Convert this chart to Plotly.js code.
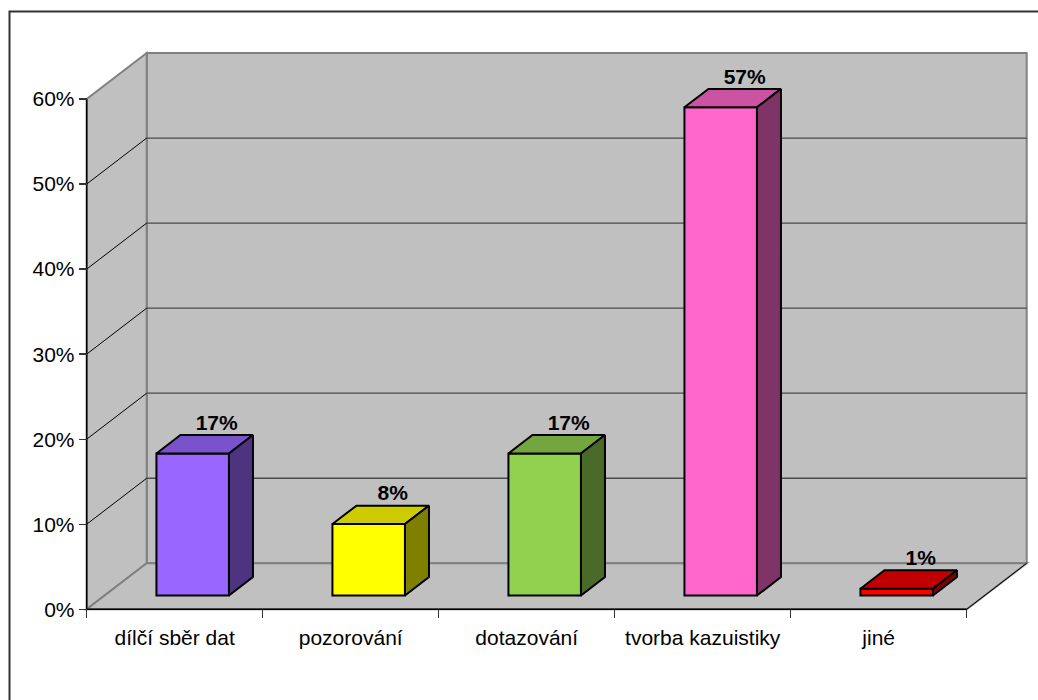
<!DOCTYPE html>
<html>
<head>
<meta charset="utf-8">
<script src="https://cdn.plot.ly/plotly-3.0.1.min.js"></script>
<style>html,body{margin:0;padding:0;background:#fff;}#chart{width:1038px;height:700px;}</style>
</head>
<body>
<div id="chart"></div>
<script>
// ---- data ----
const categories = ['dílčí sběr dat', 'pozorování', 'dotazování', 'tvorba kazuistiky', 'jiné'];
const values = [0.167, 0.084, 0.167, 0.574, 0.008];
const frontColors = ['#9966FF', '#FFFF00', '#92D050', '#FF66CC', '#FF0000'];
const topColors = ['#7A52CC', '#CCCC00', '#74A63F', '#CC52A3', '#C00000'];
const sideColors = ['#4D3380', '#808000', '#4A6A29', '#803366', '#800000'];
const yTickVals = [0, 0.1, 0.2, 0.3, 0.4, 0.5, 0.6];

// ---- geometry (layout constants) ----
const W = 1038, H = 700;
const frontX0 = 86.7, frontY0 = 609.3;   // px of front-left-bottom corner
const pxPerCat = 176, pxPerUnit = 850.5;
const depthDX = 60, depthDY = 46;        // px depth offset of the 3D box
const D = depthDX / pxPerCat;            // depth in x units
const E = depthDY / pxPerUnit;           // depth in y units
const yMax = 0.6;
const padX = 0.03, padY = 0.01;
const xRange = [-0.5 - padX, categories.length - 0.5 + D + padX];
const yRange = [-padY, yMax + E + padY];
const xDomain = [(frontX0 - padX * pxPerCat) / W, (frontX0 + (xRange[1] + 0.5) * pxPerCat) / W];
const yDomain = [1 - (frontY0 + padY * pxPerUnit) / H, 1 - (frontY0 - (yRange[1]) * pxPerUnit) / H];

const barW = 0.412, f0 = 0.3, f1 = 0.7;
const font = 'Liberation Sans, Arial, sans-serif';

// ---- shapes: walls, floor, gridlines ----
const wallFill = '#C0C0C0', edge = '#808080';
const shapes = [];
function poly(pts, fill, lc, lw) {
  const d = pts.map((p, i) => (i ? 'L' : 'M') + p[0] + ',' + p[1]).join(' ') + ' Z';
  shapes.push({type: 'path', xref: 'x', yref: 'y', path: d, fillcolor: fill, line: {color: lc, width: lw}, layer: 'below'});
}
function line(x0, y0, x1, y1, c, w) {
  shapes.push({type: 'line', xref: 'x', yref: 'y', x0, y0, x1, y1, line: {color: c, width: w}, layer: 'below'});
}
const xL = -0.5, xR = categories.length - 0.5;
// back wall
poly([[xL + D, E], [xR + D, E], [xR + D, yMax + E], [xL + D, yMax + E]], wallFill, edge, 2);
// left wall
poly([[xL, 0], [xL, yMax], [xL + D, yMax + E], [xL + D, E]], wallFill, edge, 2);
// floor
poly([[xL, 0], [xR, 0], [xR + D, E], [xL + D, E]], wallFill, edge, 2);
// gridlines
yTickVals.slice(1, -1).forEach(v => {
  line(xL + D, v + E, xR + D, v + E, '#4a4a4a', 1.3);
  line(xL, v, xL + D, v + E, '#000000', 1);
});
// front edges (axis lines)
line(xR, 0, xR + D, E, '#000000', 1);
line(xL, 0, xL, yMax, '#000000', 1.5);
line(xL, 0, xR, 0, '#000000', 1.5);
// outer chart border
shapes.push({type: 'rect', xref: 'paper', yref: 'paper', x0: 9.5 / W, x1: 1.02, y0: -0.02, y1: 1 - 11.5 / H,
  line: {color: '#333333', width: 2}, fillcolor: 'rgba(0,0,0,0)', layer: 'above'});

// ---- traces ----
const traces = [];
const xs = categories.map((c, i) => i);
traces.push({
  type: 'bar', x: xs.map(i => i + f0 * D), y: values, base: values.map(() => f0 * E), width: barW,
  marker: {color: frontColors, line: {color: '#000', width: 2}}, hoverinfo: 'skip', showlegend: false
});
values.forEach((v, i) => {
  const cx0 = i + f0 * D, cx1 = i + f1 * D, b0 = f0 * E, b1 = f1 * E;
  // top face
  traces.push({type: 'scatter', mode: 'lines', fill: 'toself', fillcolor: topColors[i],
    x: [cx0 - barW / 2, cx0 + barW / 2, cx1 + barW / 2, cx1 - barW / 2, cx0 - barW / 2],
    y: [v + b0, v + b0, v + b1, v + b1, v + b0],
    line: {color: '#000', width: 2}, hoverinfo: 'skip', showlegend: false});
  // side face
  traces.push({type: 'scatter', mode: 'lines', fill: 'toself', fillcolor: sideColors[i],
    x: [cx0 + barW / 2, cx1 + barW / 2, cx1 + barW / 2, cx0 + barW / 2, cx0 + barW / 2],
    y: [b0, b1, v + b1, v + b0, b0],
    line: {color: '#000', width: 2}, hoverinfo: 'skip', showlegend: false});
});
// data labels
traces.push({type: 'scatter', mode: 'text', x: xs.map(i => i + f1 * D), y: values.map(v => v + f1 * E),
  text: values.map(v => Math.round(v * 100) + '%'), textposition: 'top center',
  textfont: {family: font, size: 21, color: '#000', weight: 'bold'}, cliponaxis: false,
  hoverinfo: 'skip', showlegend: false});
// empty trace to register boundary tick axis
traces.push({type: 'scatter', x: [], y: [], xaxis: 'x2', yaxis: 'y', hoverinfo: 'skip', showlegend: false});

const layout = {
  width: W, height: H,
  margin: {l: 0, r: 0, t: 0, b: 0},
  paper_bgcolor: '#ffffff', plot_bgcolor: 'rgba(0,0,0,0)',
  showlegend: false, hovermode: false,
  font: {family: font, color: '#000'},
  xaxis: {
    type: 'linear', range: xRange, domain: xDomain, anchor: 'free', position: 1 - frontY0 / H,
    tickmode: 'array', tickvals: xs, ticktext: categories,
    ticks: 'outside', ticklen: 9, tickcolor: 'rgba(0,0,0,0)',
    tickfont: {family: font, size: 21, color: '#000'},
    showgrid: false, zeroline: false, showline: false, fixedrange: true
  },
  xaxis2: {
    type: 'linear', range: xRange, domain: xDomain, overlaying: 'x', anchor: 'free', position: 1 - frontY0 / H,
    side: 'bottom', tickmode: 'array', tickvals: categories.map((c, i) => i - 0.5).concat([categories.length - 0.5]),
    ticks: 'outside', ticklen: 8, tickwidth: 1.3, tickcolor: '#333', showticklabels: false,
    showgrid: false, zeroline: false, showline: false, fixedrange: true
  },
  yaxis: {
    range: yRange, domain: yDomain, anchor: 'free', position: frontX0 / W,
    tickmode: 'array', tickvals: yTickVals, tickformat: '.0%',
    ticks: 'outside', ticklen: 8, tickwidth: 1.3, tickcolor: '#333',
    tickfont: {family: font, size: 21, color: '#000'},
    showgrid: false, zeroline: false, showline: false, fixedrange: true
  },
  shapes: shapes
};

Plotly.newPlot('chart', traces, layout, {displayModeBar: false, staticPlot: true});
</script>
</body>
</html>
